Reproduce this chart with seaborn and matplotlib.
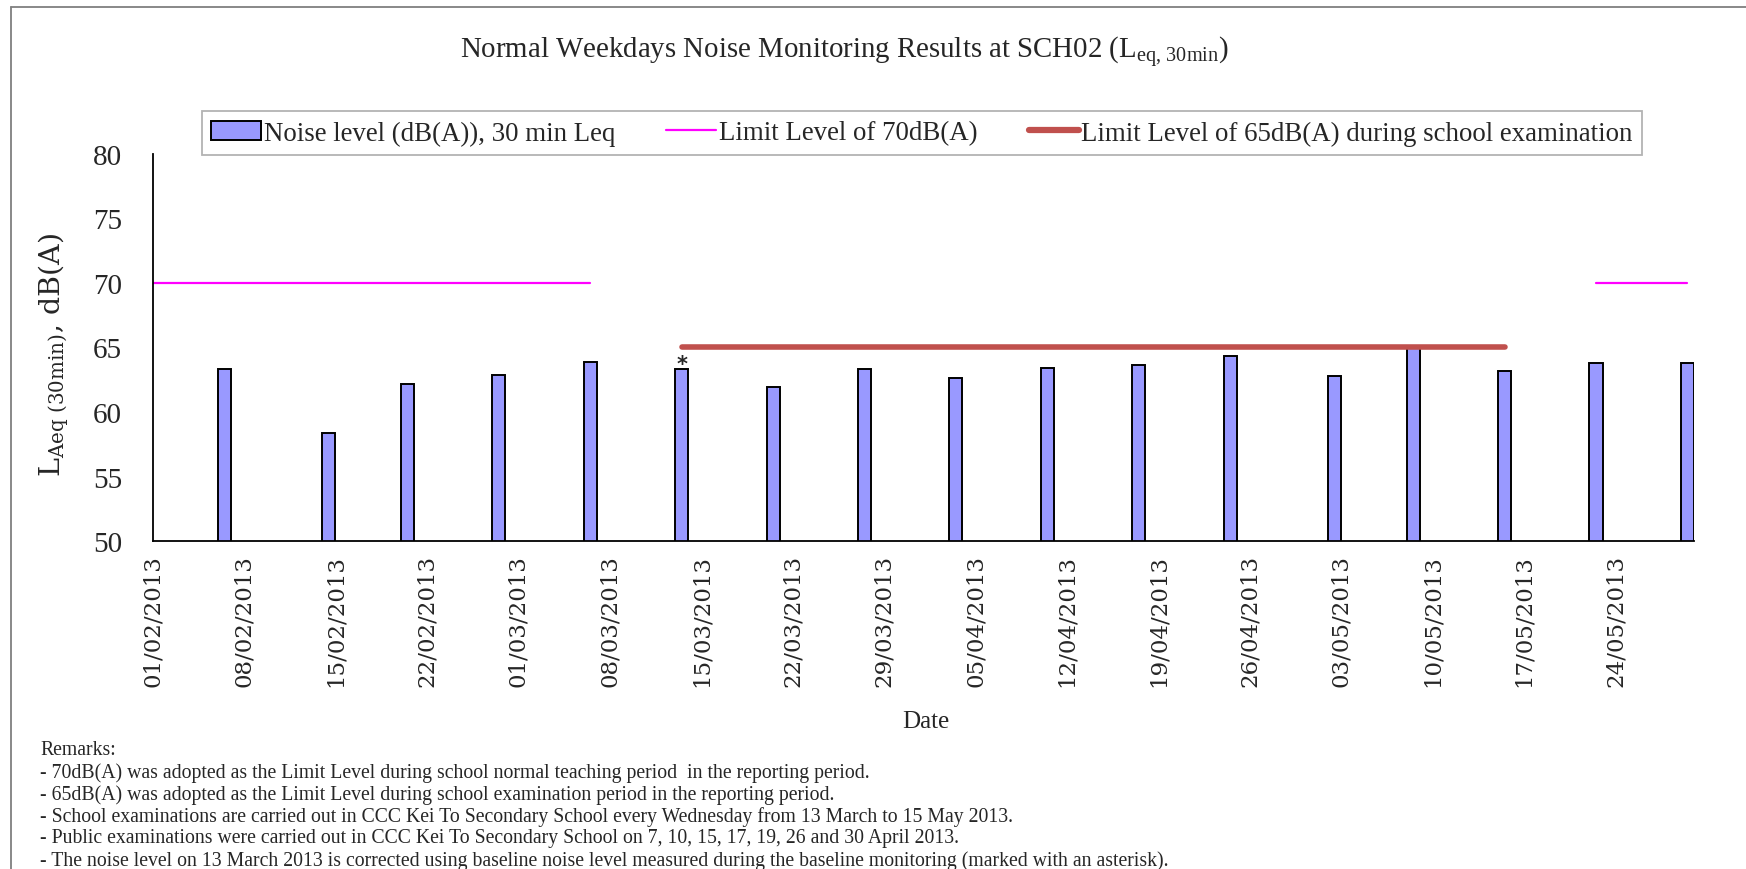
import pandas as pd
import matplotlib
matplotlib.use("Agg")
import matplotlib.pyplot as plt
import seaborn as sns
from matplotlib.patches import Patch
from matplotlib.lines import Line2D

# ---- data ----
START = pd.Timestamp("2013-02-01")
END = pd.Timestamp("2013-05-30")

DATES = ["2013-02-06", "2013-02-14", "2013-02-20", "2013-02-27", "2013-03-06",
         "2013-03-13", "2013-03-20", "2013-03-27", "2013-04-03", "2013-04-10",
         "2013-04-17", "2013-04-24", "2013-05-02", "2013-05-08", "2013-05-15",
         "2013-05-22", "2013-05-29"]
NOISE = [63.3, 58.4, 62.2, 62.9, 63.9, 63.3, 61.9, 63.3, 62.6, 63.4,
         63.6, 64.3, 62.8, 65.0, 63.2, 63.8, 63.8]
CORRECTED = "2013-03-13"          # marked with an asterisk

LIMIT70_SEG1 = ["2013-02-01", "2013-03-06"]   # starts at the axis
LIMIT70_SEG2 = ["2013-05-22", "2013-05-29"]
LIMIT65_SEG = ["2013-03-13", "2013-05-15"]

TICK_DATES = pd.date_range("2013-02-01", "2013-05-24", freq="7D")

TITLE = "Normal Weekdays Noise Monitoring Results at SCH02 (L$_{\\rm eq,\\,30min}$)"
LEGEND = ["Noise level (dB(A)), 30 min Leq", "Limit Level of 70dB(A)",
          "Limit Level of 65dB(A) during school examination"]
REMARKS = [
    "Remarks:",
    "- 70dB(A) was adopted as the Limit Level during school normal teaching period  in the reporting period.",
    "- 65dB(A) was adopted as the Limit Level during school examination period in the reporting period.",
    "- School examinations are carried out in CCC Kei To Secondary School every Wednesday from 13 March to 15 May 2013.",
    "- Public examinations were carried out in CCC Kei To Secondary School on 7, 10, 15, 17, 19, 26 and 30 April 2013.",
    "- The noise level on 13 March 2013 is corrected using baseline noise level measured during the baseline monitoring (marked with an asterisk).",
]

BAR = "#9999FF"
MAGENTA = "#FF00FF"
RED = "#C0504D"
SERIF = "Liberation Serif"


def day(d, centre=True):
    return (pd.Timestamp(d) - START).days + (0.5 if centre else 0.0)


def main():
    sns.set_theme(style="white")
    plt.rcParams["font.family"] = [SERIF, "DejaVu Serif"]
    plt.rcParams["mathtext.fontset"] = "custom"
    plt.rcParams["mathtext.rm"] = SERIF
    plt.rcParams["mathtext.it"] = SERIF + ":italic"

    fig = plt.figure(figsize=(17.46, 8.70), dpi=100)
    ax = fig.add_axes([152.6 / 1746, 1 - 542.3 / 870,
                       (1694 - 152.6) / 1746, (542.3 - 154.5) / 870])

    x_bars = [day(d) for d in DATES]
    sns.barplot(x=x_bars, y=NOISE, native_scale=True, orient="x", width=1 / 6,
                color=BAR, saturation=1, edgecolor="black", linewidth=1.4, ax=ax)

    xlim = (0, day(END, centre=False))
    sns.lineplot(x=[xlim[0], day(LIMIT70_SEG1[1])], y=[70, 70], color=MAGENTA,
                 lw=1.6, ax=ax)
    sns.lineplot(x=[day(d) for d in LIMIT70_SEG2], y=[70, 70], color=MAGENTA,
                 lw=1.6, ax=ax)
    sns.lineplot(x=[day(d) for d in LIMIT65_SEG], y=[65, 65], color=RED,
                 lw=4.0, solid_capstyle="round", ax=ax)

    i = DATES.index(CORRECTED)
    ax.text(day(CORRECTED), NOISE[i] + 0.4, "*", ha="center", va="center",
            fontsize=15, fontweight="bold", family="DejaVu Sans")

    ax.set_xlim(*xlim)
    ax.set_ylim(50, 80)
    ax.set_yticks(range(50, 81, 5))
    ax.set_yticklabels([str(v) for v in range(50, 81, 5)], fontsize=21)
    ax.set_xticks([day(d, centre=False) for d in TICK_DATES])
    ax.set_xticklabels([d.strftime("%d/%m/%Y") for d in TICK_DATES],
                       rotation=90, fontsize=16.5, family="DejaVu Serif")
    ax.tick_params(axis="both", direction="out", length=5, width=1,
                   color="#808080")
    ax.tick_params(axis="x", pad=4)
    ax.tick_params(axis="y", pad=17)
    ax.set_xlabel("")
    ax.set_ylabel("")
    for s in ["top", "right"]:
        ax.spines[s].set_visible(False)
    for s in ["left", "bottom"]:
        ax.spines[s].set_color("black")
        ax.spines[s].set_linewidth(1.3)
    ax.grid(False)

    # ---- outer chart frame ----
    fig.add_artist(Line2D([11 / 1746, 11 / 1746], [0, 1 - 8 / 870],
                          color="#7f7f7f", lw=1.3))
    fig.add_artist(Line2D([11 / 1746, 1], [1 - 8 / 870, 1 - 8 / 870],
                          color="#7f7f7f", lw=1.3))

    fig.text(844 / 1746, 1 - 53 / 870, TITLE, ha="center", va="center",
             fontsize=20.8)

    fig.text(54 / 1746, 1 - 355 / 870, "L$_{\\mathrm{Aeq\\ (30min)}}$, dB(A)",
             rotation=90, ha="center", va="center", fontsize=20.5,
             family="DejaVu Serif", math_fontfamily="dejavuserif")
    fig.text(926 / 1746, 1 - 722 / 870, "Date", ha="center", va="center",
             fontsize=18)

    handles = [Patch(facecolor=BAR, edgecolor="black", linewidth=1.4),
               Line2D([], [], color=MAGENTA, lw=1.6),
               Line2D([], [], color=RED, lw=4.5, solid_capstyle="round")]
    leg = fig.legend(handles, LEGEND, loc="center", ncol=3,
                     bbox_to_anchor=(922 / 1746, 1 - 134 / 870),
                     fontsize=19.4, frameon=True, fancybox=False,
                     edgecolor="#a0a0a0", handlelength=1.85, handletextpad=0.1,
                     columnspacing=1.9, borderpad=0.35)
    leg.get_frame().set_linewidth(1.3)

    for k, line in enumerate(REMARKS):
        fig.text(40 / 1746, 1 - (751 + k * 22) / 870, line, ha="left",
                 va="center", fontsize=14.2)

    fig.savefig("out.png", dpi=100, facecolor="white")
    plt.close(fig)


if __name__ == "__main__":
    main()
